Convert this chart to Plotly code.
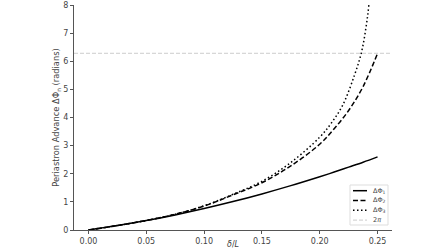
import plotly.graph_objects as go
import math

delta = [0, 0.025, 0.05, 0.075, 0.1, 0.125, 0.15, 0.175, 0.2, 0.2125, 0.225, 0.2375, 0.25]
phi1 = [0, 0.156, 0.335, 0.537, 0.762, 1.01, 1.282, 1.577, 1.894, 2.06, 2.235, 2.41, 2.60]
phi2 = [0, 0.157, 0.34, 0.56, 0.85, 1.25, 1.68, 2.28, 3.05, 3.6, 4.25, 5.1, 6.28]
delta3 = [0, 0.025, 0.05, 0.075, 0.1, 0.125, 0.15, 0.175, 0.2, 0.21, 0.22, 0.23, 0.236, 0.24, 0.2425, 0.245]
phi3 = [0, 0.157, 0.34, 0.56, 0.86, 1.27, 1.73, 2.4, 3.3, 3.8, 4.45, 5.5, 6.3, 7.2, 8.0, 9.2]
two_pi = 2 * math.pi
x_ticks = [0, 0.05, 0.1, 0.15, 0.2, 0.25]
x_tick_labels = ["0.00", "0.05", "0.10", "0.15", "0.20", "0.25"]
y_ticks = [0, 1, 2, 3, 4, 5, 6, 7, 8]
legend_names = ["ΔΦ<sub>1</sub>", "ΔΦ<sub>2</sub>", "ΔΦ<sub>3</sub>", "2<i>π</i>"]

DASH = "5px,2.5px"
DOT = "1.5px,2.5px"
GRAYDASH = "4px,2px"
styles = [("black", 1.5, "solid"), ("black", 1.5, DASH), ("black", 1.5, DOT), ("#cccccc", 1, GRAYDASH)]

fig = go.Figure()
fig.add_trace(go.Scatter(x=delta, y=phi1, mode="lines", line=dict(color="black", width=1.5, shape="spline"), name=legend_names[0]))
fig.add_trace(go.Scatter(x=delta, y=phi2, mode="lines", line=dict(color="black", width=1.5, dash=DASH, shape="spline"), name=legend_names[1]))
fig.add_trace(go.Scatter(x=delta3, y=phi3, mode="lines", line=dict(color="black", width=1.5, dash=DOT, shape="spline"), name=legend_names[2]))
fig.add_trace(go.Scatter(x=[-0.0125, 0.2625], y=[two_pi, two_pi], mode="lines", line=dict(color="#cccccc", width=1, dash=GRAYDASH), name=legend_names[3]))

axis_common = dict(showline=True, linecolor="#555", linewidth=1, ticks="outside", ticklen=3, tickcolor="#555",
                   showgrid=False, zeroline=False, tickfont=dict(size=8, color="#444"), automargin=False)
fig.update_layout(
    width=448, height=252,
    margin=dict(l=74, r=56, t=5, b=22),
    paper_bgcolor="white", plot_bgcolor="white",
    font=dict(family="DejaVu Sans", size=8, color="#444"),
    xaxis=dict(range=[-0.0125, 0.2625], tickvals=x_ticks, ticktext=x_tick_labels, **axis_common),
    yaxis=dict(range=[0, 8], tickvals=y_ticks,
               title=dict(text="Periastron Advance ΔΦ<sub>n</sub> (radians)", font=dict(size=8.3), standoff=2), **axis_common),
    showlegend=False,
)
fig.add_annotation(text="<i>δ</i>/<i>L</i>", xref="paper", yref="paper", x=0.5, y=0, yshift=-8, yanchor="top",
                   showarrow=False, font=dict(size=8, color="#444"))

# manual compact legend (matplotlib-like)
pw, ph = 318.0, 225.0
def px2paper(xp, yp):
    return (xp - 74) / pw, (230 - yp) / ph
x0, y0 = px2paper(350, 225)
x1, y1 = px2paper(388, 185)
fig.add_shape(type="rect", xref="paper", yref="paper", x0=x0, y0=y0, x1=x1, y1=y1,
              line=dict(color="#dddddd", width=1), fillcolor="rgba(255,255,255,0.8)", layer="above")
for i, (name, (col, w, d)) in enumerate(zip(legend_names, styles)):
    yp = 190.7 + i * 9.8
    lx0, ly = px2paper(353, yp)
    lx1, _ = px2paper(367, yp)
    fig.add_shape(type="line", xref="paper", yref="paper", x0=lx0, x1=lx1, y0=ly, y1=ly,
                  line=dict(color=col, width=w, dash=d), layer="above")
    tx, _ = px2paper(371, yp)
    fig.add_annotation(text=name, xref="paper", yref="paper", x=tx, y=ly, xanchor="left", yanchor="middle",
                       showarrow=False, font=dict(size=6.5, color="#444"))

fig.write_html("out.html", config={"displayModeBar": False},
               post_script="document.body.style.margin='0';document.body.style.overflow='hidden';")
